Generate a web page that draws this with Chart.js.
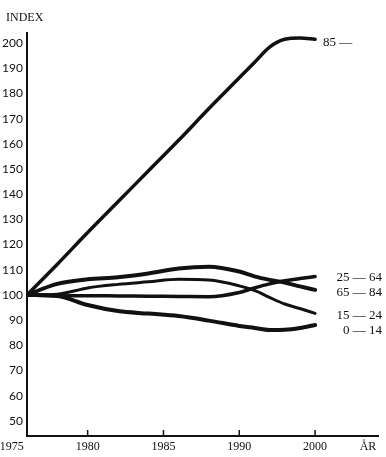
<!DOCTYPE html>
<html>
<head>
<meta charset="utf-8">
<script src="https://cdn.jsdelivr.net/npm/chart.js@4/dist/chart.umd.min.js"></script>
<style>
  html, body { margin: 0; padding: 0; background: #fff; }
  #wrap { width: 386px; height: 457px; }
</style>
</head>
<body>
<div id="wrap"><canvas id="chart" width="386" height="457"></canvas></div>
<script>
/* =========================
   DATA
========================= */

// tick labels on the year axis (drawn evenly spaced, as in the original)
const tickYears = [1975, 1980, 1985, 1990, 2000];
const yTicks = [50, 60, 70, 80, 90, 100, 110, 120, 130, 140, 150, 160, 170, 180, 190, 200];

// sample years
const years = [1976, 1978, 1980, 1982, 1984, 1986, 1988, 1990, 1992, 1994, 1996, 1998, 2000];

const age85   = [100, 112.2, 124.8, 137, 149.2, 161.4, 174, 186.2, 192.3, 198.4, 201.5, 202, 201.5];
const age2564 = [100, 99.6, 99.7, 99.6, 99.5, 99.4, 99.3, 101, 102.8, 104.4, 105.6, 106.5, 107.3];
const age6584 = [100, 104.4, 106.2, 107, 108.5, 110.5, 111.2, 109.3, 107.4, 106, 104.9, 103.4, 102];
const age1524 = [100, 100.3, 102.8, 104.2, 105.2, 106.2, 105.9, 103.6, 101.8, 99, 96.4, 94.6, 92.7];
const age014  = [100, 99.6, 96, 93.6, 92.6, 91.6, 89.8, 87.7, 86.9, 86.1, 86.2, 86.9, 88.1];

const seriesLabels = ["85 —", "25 — 64", "65 — 84", "15 — 24", "0 — 14"];


/* =========================
   HELPERS
========================= */

// the printed axis puts its year ticks at equal distances,
// so years are placed by their tick slot
function yearToSlot(y) {
  for (let i = 0; i < tickYears.length - 1; i++) {
    const a = tickYears[i], b = tickYears[i + 1];
    if (y <= b || i === tickYears.length - 2) return i + (y - a) / (b - a);
  }
  return 0;
}

function toPoints(values) {
  return years.map((y, i) => ({ x: yearToSlot(y), y: values[i] }));
}

const serif = "'Liberation Serif', 'DejaVu Serif', serif";


/* =========================
   PLUGIN: labels + tick marks
========================= */

const decorations = {
  id: "decorations",
  afterDraw(chart) {
    const ctx = chart.ctx;
    const x = chart.scales.x;
    const area = chart.chartArea;

    ctx.save();
    ctx.fillStyle = "#111";
    ctx.strokeStyle = "#111";

    // small upward ticks on the year axis
    ctx.lineWidth = 1.5;
    tickYears.slice(1).forEach(y => {
      const px = x.getPixelForValue(yearToSlot(y));
      ctx.beginPath();
      ctx.moveTo(px, area.bottom);
      ctx.lineTo(px, area.bottom - 6);
      ctx.stroke();
    });

    // axis titles
    ctx.font = "12px " + serif;
    ctx.textBaseline = "middle";
    ctx.textAlign = "left";
    ctx.fillText("INDEX", 6, 18);
    ctx.textAlign = "center";
    ctx.fillText("ÅR", 368, 447);

    // series labels at the line ends
    ctx.font = "13px " + serif;
    const nudge = [3, 1, 3, 2, 6];
    chart.data.datasets.forEach((ds, i) => {
      const meta = chart.getDatasetMeta(i);
      const last = meta.data[meta.data.length - 1];
      if (i === 0) {
        ctx.textAlign = "left";
        ctx.fillText(seriesLabels[i], last.x + 8, last.y + nudge[i]);
      } else {
        ctx.textAlign = "right";
        ctx.fillText(seriesLabels[i], 382, last.y + nudge[i]);
      }
    });

    ctx.restore();
  }
};


/* =========================
   CHART
========================= */

const lineStyle = (w) => ({
  borderColor: "#111",
  borderWidth: w,
  pointRadius: 0,
  fill: false,
  cubicInterpolationMode: "monotone",
  borderCapStyle: "round",
  borderJoinStyle: "round"
});

new Chart(document.getElementById("chart"), {
  type: "line",
  data: {
    datasets: [
      { label: seriesLabels[0], data: toPoints(age85), ...lineStyle(3.5) },
      { label: seriesLabels[1], data: toPoints(age2564), ...lineStyle(3.5) },
      { label: seriesLabels[2], data: toPoints(age6584), ...lineStyle(4) },
      { label: seriesLabels[3], data: toPoints(age1524), ...lineStyle(3) },
      { label: seriesLabels[4], data: toPoints(age014), ...lineStyle(4) }
    ]
  },
  options: {
    responsive: false,
    animation: false,
    layout: { padding: { top: 33, right: 8, left: 0, bottom: 0 } },
    plugins: {
      legend: { display: false },
      tooltip: { enabled: false }
    },
    scales: {
      x: {
        type: "linear",
        min: yearToSlot(1976),
        max: 4.83,
        grid: { display: false, drawTicks: false },
        border: { display: true, color: "#111", width: 2 },
        ticks: {
          autoSkip: false,
          maxRotation: 0,
          padding: 4,
          color: "#111",
          font: { family: serif, size: 12 },
          callback: (v) => {
            const i = tickYears.findIndex((y, k) => Math.abs(k - v) < 1e-6);
            return i >= 0 ? String(tickYears[i]) : "";
          }
        },
        afterBuildTicks: (scale) => {
          scale.ticks = tickYears.map((y, i) => ({ value: i }));
        },
        afterFit: (scale) => {
          scale.height = 21;
          scale.paddingLeft = 0;
          scale.paddingRight = 0;
        }
      },
      y: {
        min: 44,
        max: 204,
        grid: { display: false, drawTicks: false },
        border: { display: true, color: "#111", width: 2 },
        ticks: {
          padding: 4,
          color: "#111",
          font: { family: "Lato, 'Open Sans', sans-serif", size: 12 }
        },
        afterBuildTicks: (scale) => {
          scale.ticks = yTicks.map(v => ({ value: v }));
        },
        afterFit: (scale) => {
          scale.width = 27;
        }
      }
    }
  },
  plugins: [decorations]
});
</script>
</body>
</html>
